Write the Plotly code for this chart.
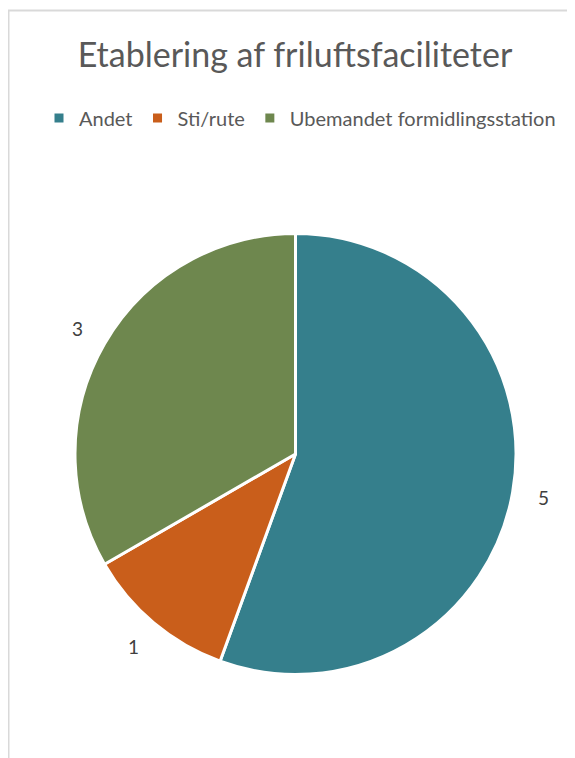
import math
import plotly.graph_objects as go

categories = ["Andet", "Sti/rute", "Ubemandet formidlingsstation"]
values = [5, 1, 3]
colors = ["#357F8C", "#C95E1B", "#6E874E"]

# the page body has an 8px margin, so work in figure coordinates shifted by 8px
OFF = 8
W, H = 575 - OFF, 758 - OFF
CX, CY, R = 295.5 - OFF, 454.0 - OFF, 220.5
LABEL_R = 1.14

fig = go.Figure()
fig.add_trace(go.Pie(
    labels=categories, values=values, sort=False, direction="clockwise", rotation=0,
    marker=dict(colors=colors, line=dict(color="white", width=3)),
    textinfo="none", hoverinfo="label+value",
    domain=dict(x=[(CX - R) / W, (CX + R) / W], y=[1 - (CY + R) / H, 1 - (CY - R) / H]),
))

total = sum(values)
cum = 0
annotations = []
for v in values:
    mid = (cum + v / 2) / total * 2 * math.pi
    cum += v
    px = CX + LABEL_R * R * math.sin(mid)
    py = CY - LABEL_R * R * math.cos(mid)
    annotations.append(dict(x=px / W, y=1 - py / H, xref="paper", yref="paper",
                            text=str(v), showarrow=False, xanchor="center", yanchor="middle",
                            font=dict(size=19, color="#404040", family="Lato")))

fig.update_layout(
    width=W, height=H, margin=dict(l=0, r=0, t=0, b=0),
    paper_bgcolor="white", plot_bgcolor="white",
    title=dict(text="Etablering af friluftsfaciliteter", x=(295 - OFF) / W, y=1 - (55 - OFF) / H,
               xanchor="center", yanchor="middle",
               font=dict(size=34, color="#595959", family="Lato")),
    legend=dict(orientation="h", x=(300 - OFF) / W, xanchor="center", y=1 - (118 - OFF) / H,
                yanchor="middle",
                font=dict(size=20, color="#595959", family="Lato"), itemwidth=30,
                traceorder="normal"),
    annotations=annotations,
    shapes=[dict(type="rect", xref="paper", yref="paper", x0=0.5 / W, y0=1 - 2.5 / H, x1=1.2, y1=-0.2,
                 line=dict(color="#D9D9D9", width=2), fillcolor="rgba(0,0,0,0)", layer="below")],
)

fig.write_html("out.html")
